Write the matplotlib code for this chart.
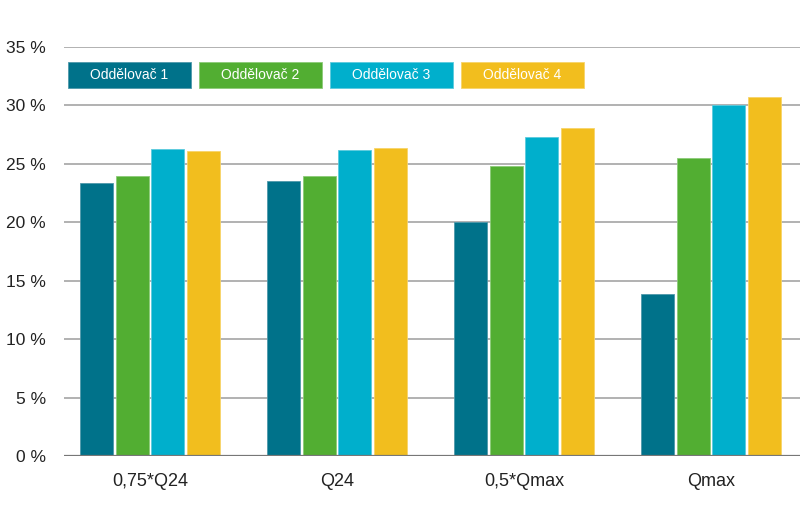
import numpy as np
import matplotlib.pyplot as plt
from matplotlib.patches import Rectangle

plt.rcParams["font.family"] = ["Liberation Sans Narrow", "Liberation Sans", "DejaVu Sans"]

categories = ["0,75*Q24", "Q24", "0,5*Qmax", "Qmax"]
series_names = ["Oddělovač 1", "Oddělovač 2", "Oddělovač 3", "Oddělovač 4"]
oddelovac_1 = [23.4, 23.5, 20.0, 13.9]
oddelovac_2 = [24.0, 24.0, 24.8, 25.5]
oddelovac_3 = [26.3, 26.2, 27.3, 30.0]
oddelovac_4 = [26.1, 26.4, 28.1, 30.7]
y_ticks = [0, 5, 10, 15, 20, 25, 30, 35]

colors = ["#00728A", "#52AE32", "#00AFCC", "#F2BE1E"]
edge_colors = ["#4F98AA", "#8CCB78", "#5CCBDD", "#F7D469"]

fig = plt.figure(figsize=(8, 5.15), dpi=100)
ax = fig.add_axes([0.08, 0.1146, 0.92, 0.7941])

x = np.arange(len(categories))
step = 0.191
width = 0.176
all_series = [oddelovac_1, oddelovac_2, oddelovac_3, oddelovac_4]
for i, vals in enumerate(all_series):
    ax.bar(x + (i - 1.5) * step, vals, width, color=colors[i],
           edgecolor=edge_colors[i], linewidth=0.6, zorder=3)

ax.set_xlim(-0.46, 3.476)
ax.set_ylim(0, 35)

# gridlines
for t in y_ticks[1:]:
    ax.axhline(t, color="#ABABAB", linewidth=1.3, zorder=1)
ax.axhline(0, color="#777777", linewidth=1.6, zorder=4)

for s in ax.spines.values():
    s.set_visible(False)

ax.set_yticks(y_ticks)
ax.set_yticklabels([f"{t} %" for t in y_ticks], fontsize=12.5, color="#222222")
ax.set_xticks(x)
ax.set_xticklabels(categories, fontsize=13, color="#222222")
ax.tick_params(axis="y", length=0, pad=13)
ax.tick_params(axis="x", length=0, pad=12)

# legend as coloured boxes with white text
box_w, box_h = 123, 26
box_x0 = [68, 199, 330, 461]
box_y = 515 - 88
for i, name in enumerate(series_names):
    fx = box_x0[i] / 800
    fy = box_y / 515
    fig.patches.append(Rectangle((fx, fy), box_w / 800, box_h / 515,
                                 transform=fig.transFigure, facecolor=colors[i],
                                 edgecolor=edge_colors[i], linewidth=0.6))
    fig.text(fx + box_w / 1600, fy + box_h / 1030, name, color="white",
             fontsize=10, ha="center", va="center")

fig.savefig("out.png", dpi=100)
